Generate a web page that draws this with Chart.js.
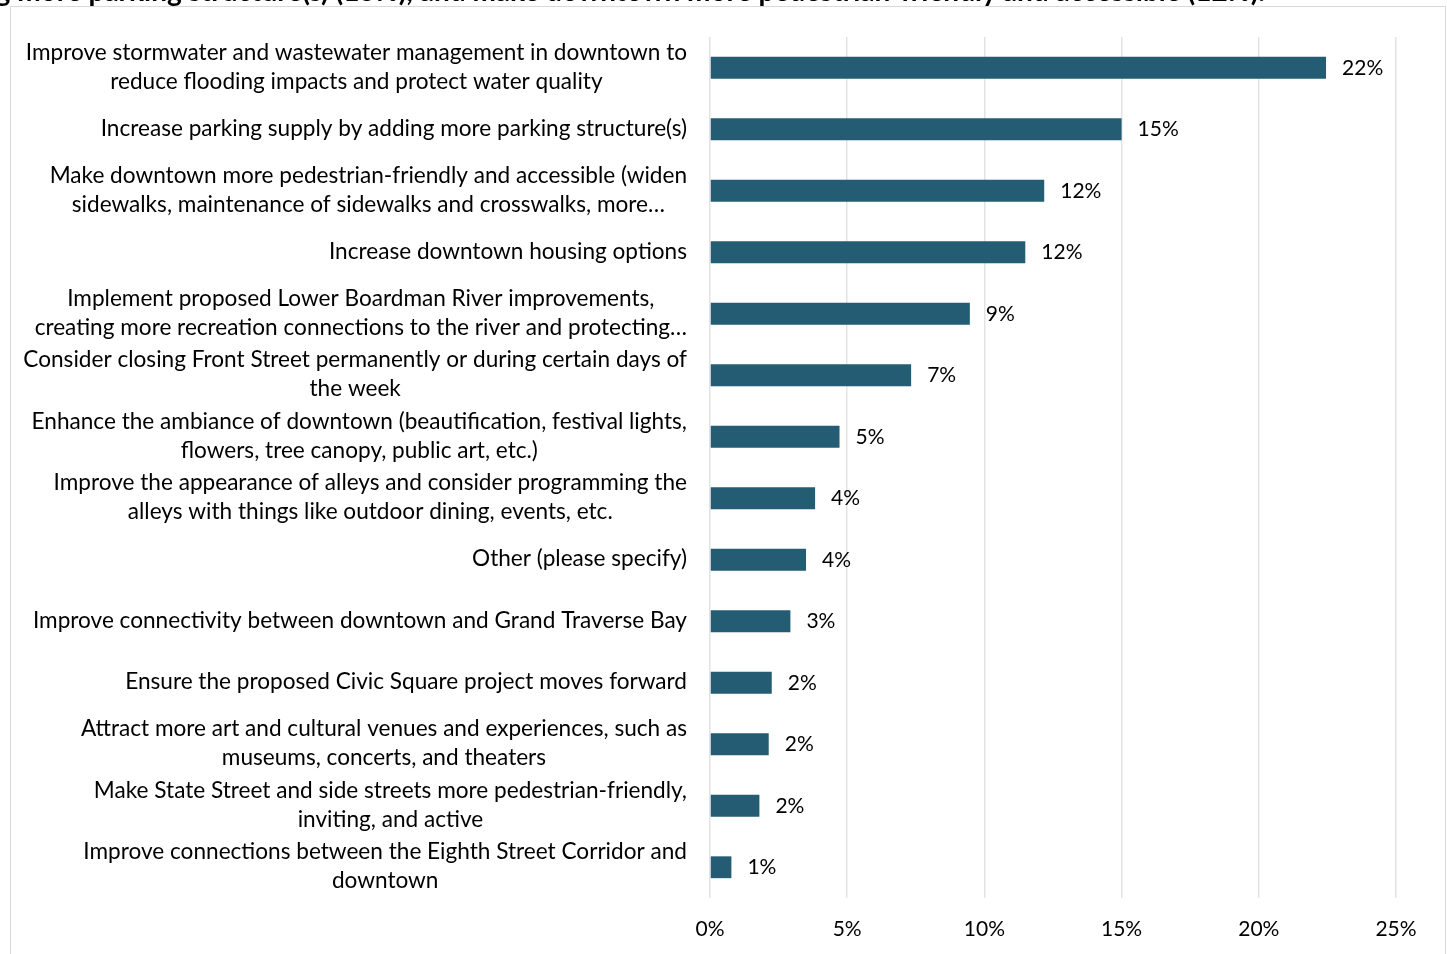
<!DOCTYPE html>
<html>
<head>
<meta charset="utf-8">
<script src="https://cdn.jsdelivr.net/npm/chart.js@4.4.0/dist/chart.umd.min.js"></script>
<style>
    html, body { margin: 0; padding: 0; background: #fff; overflow: hidden; }
    body { width: 1447px; height: 954px; position: relative; }
    #frame { position: absolute; left: 10px; top: 6px; width: 1434px; height: 980px; border: 1px solid #d9d9d9; background: #fff; }
    #title { position: absolute; right: 182px; top: -24px; white-space: nowrap; font: bold 28px/28px Lato, sans-serif; color: #000; z-index: 2; }
    #chart-wrap { position: absolute; left: 0; top: 0; width: 1447px; height: 954px; z-index: 1; }
</style>
</head>
<body>
<div id="frame"></div>
<div id="title">Top priorities: improve stormwater and wastewater management (22%), increase parking supply by adding more parking structure(s) (15%), and make downtown more pedestrian-friendly and accessible (12%).</div>
<div id="chart-wrap"><canvas id="priorities-chart"></canvas></div>
<script>
// survey answers, top to bottom
const categories = [
    ['Improve stormwater and wastewater management in downtown to', 'reduce flooding impacts and protect water quality'],
    ['Increase parking supply by adding more parking structure(s)'],
    ['Make downtown more pedestrian-friendly and accessible (widen', 'sidewalks, maintenance of sidewalks and crosswalks, more\u2026'],
    ['Increase downtown housing options'],
    ['Implement proposed Lower Boardman River improvements,', 'creating more recreation connections to the river and protecting\u2026'],
    ['Consider closing Front Street permanently or during certain days of', 'the week'],
    ['Enhance the ambiance of downtown (beautification, festival lights,', 'flowers, tree canopy, public art, etc.)'],
    ['Improve the appearance of alleys and consider programming the', 'alleys with things like outdoor dining, events, etc.'],
    ['Other (please specify)'],
    ['Improve connectivity between downtown and Grand Traverse Bay'],
    ['Ensure the proposed Civic Square project moves forward'],
    ['Attract more art and cultural venues and experiences, such as', 'museums, concerts, and theaters'],
    ['Make State Street and side streets more pedestrian-friendly,', 'inviting, and active'],
    ['Improve connections between the Eighth Street Corridor and', 'downtown']
];

// share of responses (%)
const shares = [22.45, 15.0, 12.18, 11.49, 9.47, 7.33, 4.72, 3.83, 3.5, 2.93, 2.25, 2.14, 1.8, 0.78];

// labels printed next to the bars
const shareLabels = ['22%', '15%', '12%', '12%', '9%', '7%', '5%', '4%', '4%', '3%', '2%', '2%', '2%', '1%'];

const xTicks = [0, 5, 10, 15, 20, 25];

const FONT_FAMILY = "Lato, 'Open Sans', sans-serif";
const LABEL_SIZE = 22.6;
const VALUE_SIZE = 21;
const LINE_HEIGHT = 29;
const BAR_COLOR = '#245d73';

// y labels: block right-aligned to the axis, lines centred inside the block
const categoryLabels = {
    id: 'categoryLabels',
    afterDraw(chart) {
        const ctx = chart.ctx;
        const yScale = chart.scales.y;
        ctx.save();
        ctx.font = `${LABEL_SIZE}px ${FONT_FAMILY}`;
        ctx.fillStyle = '#000';
        ctx.textAlign = 'center';
        ctx.textBaseline = 'middle';
        chart.data.labels.forEach((lines, i) => {
            const yc = yScale.getPixelForValue(i) - 1;
            const widest = Math.max(...lines.map(l => ctx.measureText(l).width));
            const cx = yScale.right - 23 - widest / 2;
            lines.forEach((line, j) => {
                ctx.fillText(line, cx, yc + (j - (lines.length - 1) / 2) * LINE_HEIGHT);
            });
        });
        ctx.restore();
    }
};

const valueLabels = {
    id: 'valueLabels',
    afterDatasetsDraw(chart) {
        const ctx = chart.ctx;
        const meta = chart.getDatasetMeta(0);
        ctx.save();
        ctx.font = `${VALUE_SIZE}px ${FONT_FAMILY}`;
        ctx.fillStyle = '#000';
        ctx.textAlign = 'left';
        ctx.textBaseline = 'middle';
        meta.data.forEach((bar, i) => {
            ctx.fillText(shareLabels[i], bar.x + 16, bar.y);
        });
        ctx.restore();
    }
};

new Chart(document.getElementById('priorities-chart'), {
    type: 'bar',
    data: {
        labels: categories,
        datasets: [{
            data: shares,
            backgroundColor: BAR_COLOR,
            borderWidth: 0,
            categoryPercentage: 1,
            barPercentage: 0.355
        }]
    },
    options: {
        indexAxis: 'y',
        responsive: true,
        maintainAspectRatio: false,
        animation: false,
        layout: { padding: { top: 37, right: 51, bottom: 0, left: 0 } },
        plugins: {
            legend: { display: false },
            tooltip: { enabled: false }
        },
        scales: {
            x: {
                min: 0,
                max: 25,
                afterBuildTicks: (scale) => { scale.ticks = xTicks.map(v => ({ value: v })); },
                afterFit: (scale) => { scale.height = 56; },
                ticks: {
                    padding: 19,
                    color: '#000',
                    font: { family: FONT_FAMILY, size: VALUE_SIZE },
                    callback: (v) => v + '%'
                },
                grid: { color: '#e3e3e3', lineWidth: 1.5, drawTicks: false },
                border: { display: false }
            },
            y: {
                afterFit: (scale) => { scale.width = 710; },
                ticks: { display: false },
                grid: { display: false, drawTicks: false },
                border: { display: false }
            }
        }
    },
    plugins: [categoryLabels, valueLabels]
});
</script>
</body>
</html>
